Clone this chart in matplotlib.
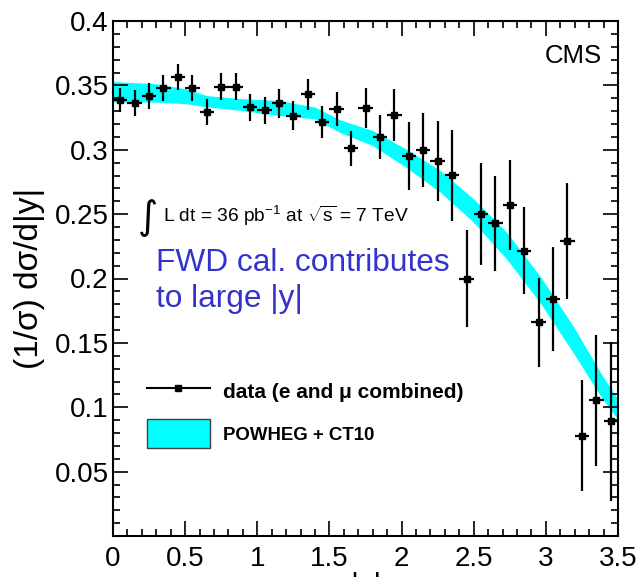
import numpy as np
import matplotlib
matplotlib.use("Agg")
import matplotlib.pyplot as plt
from matplotlib.lines import Line2D
from matplotlib.patches import Patch
from matplotlib.ticker import MultipleLocator, FormatStrFormatter

plt.rcParams['font.family'] = ['Liberation Sans', 'DejaVu Sans']
plt.rcParams['mathtext.fontset'] = 'custom'
plt.rcParams['mathtext.rm'] = 'Liberation Sans'
plt.rcParams['mathtext.it'] = 'Liberation Sans:italic'
plt.rcParams['mathtext.bf'] = 'Liberation Sans:bold'

# measured |y| distribution, bins of 0.1
bin_centres = np.round(np.arange(0.05, 3.5, 0.1), 2)
data_vals = [0.339, 0.3365, 0.342, 0.348, 0.3565, 0.348, 0.329, 0.349, 0.349, 0.333,
             0.3305, 0.336, 0.3265, 0.343, 0.3215, 0.332, 0.301, 0.3325, 0.31, 0.327,
             0.295, 0.300, 0.2915, 0.280, 0.200, 0.250, 0.243, 0.257, 0.2215, 0.166,
             0.184, 0.229, 0.078, 0.1055, 0.089]
data_errs = [0.0093, 0.010, 0.0101, 0.010, 0.0104, 0.0101, 0.0101, 0.0104, 0.0104, 0.0104,
             0.0107, 0.011, 0.0113, 0.0121, 0.0123, 0.0132, 0.0136, 0.0155, 0.0169, 0.0199,
             0.0265, 0.0286, 0.0312, 0.0355, 0.0376, 0.0396, 0.037, 0.0347, 0.0337, 0.0347,
             0.0403, 0.045, 0.0431, 0.0509, 0.0615]
bin_half_width = 0.05

# POWHEG + CT10 prediction band
band_x = [0.0, 0.3, 0.5, 0.65, 0.9, 1.15, 1.4, 1.57, 1.8, 2.03, 2.27, 2.5, 2.73, 2.96, 3.19, 3.38, 3.5]
band_hi = [0.353, 0.3512, 0.3474, 0.3421, 0.3396, 0.3383, 0.3331, 0.3234, 0.3149, 0.3006,
           0.2837, 0.2617, 0.2357, 0.2019, 0.1630, 0.1267, 0.1059]
band_lo = [0.337, 0.337, 0.3358, 0.3333, 0.3304, 0.3266, 0.3240, 0.3136, 0.3032, 0.2864,
           0.2669, 0.2435, 0.2149, 0.1812, 0.1423, 0.1085, 0.0903]

W, H = 636, 577
fig = plt.figure(figsize=(W / 100, H / 100), dpi=100)
ax = fig.add_axes([113 / W, 1 - 536 / H, 505 / W, 515 / H])

ax.fill_between(band_x, band_lo, band_hi, color='#00ffff', lw=0, zorder=1)
ax.errorbar(bin_centres, data_vals, yerr=data_errs, xerr=bin_half_width,
            fmt='s', color='black', ms=4.5, elinewidth=1.6, capsize=0, zorder=3)

ax.set_xlim(0, 3.5)
ax.set_ylim(0, 0.4)
ax.set_yticks([0.05, 0.1, 0.15, 0.2, 0.25, 0.3, 0.35, 0.4])
ax.xaxis.set_major_locator(MultipleLocator(0.5))
ax.xaxis.set_minor_locator(MultipleLocator(0.1))
ax.yaxis.set_minor_locator(MultipleLocator(0.01))
ax.xaxis.set_major_formatter(FormatStrFormatter('%g'))
ax.yaxis.set_major_formatter(FormatStrFormatter('%g'))
ax.tick_params(which='both', direction='in', top=True, right=True, width=1.2, labelsize=20)
ax.tick_params(which='major', length=11)
ax.tick_params(which='minor', length=5)
ax.tick_params(axis='y', pad=3)
ax.tick_params(axis='x', pad=7)
for sp in ax.spines.values():
    sp.set_linewidth(1.5)

ax.set_ylabel('(1/σ) dσ/d|y|', fontsize=24)
ax.yaxis.set_label_coords(-0.135, 0.5)
ax.set_xlabel('|y|', fontsize=22)
ax.xaxis.set_label_coords(0.5, -0.07)

#? Texts on the plot
fig.text(602 / W, 1 - 63 / H, 'CMS', fontsize=18.5, ha='right', va='baseline')
fig.text(148 / W, 1 - 218 / H, '∫', fontsize=28, ha='center', va='center',
         family='DejaVu Sans')
fig.text(163 / W, 1 - 222 / H, r'L dt = 36 pb$^{\mathregular{-1}}$ at $\sqrt{\mathregular{s}}$ = 7 TeV',
         fontsize=13.8, ha='left', va='baseline')
fig.text(156 / W, 1 - 271 / H, 'FWD cal. contributes', fontsize=22.8, color='#3333cc',
         ha='left', va='baseline')
fig.text(156 / W, 1 - 307 / H, 'to large |y|', fontsize=22.8, color='#3333cc',
         ha='left', va='baseline')

#? Legend
handles = [Line2D([], [], color='black', lw=1.5, marker='s', ms=4.5),
           Patch(facecolor='#00ffff', edgecolor='#404040', lw=1)]
labels = ['data (e and μ combined)', 'POWHEG + CT10']
leg = ax.legend(handles, labels, loc='upper left',
                bbox_to_anchor=((147 - 113) / 505, (536 - 377) / 515),
                frameon=False, borderpad=0, borderaxespad=0, handlelength=3.0, handleheight=1.75,
                handletextpad=0.65, labelspacing=0.65, prop={'weight': 'bold', 'size': 15})
leg.get_texts()[1].set_fontsize(13.4)

fig.savefig('out.png', dpi=100)
